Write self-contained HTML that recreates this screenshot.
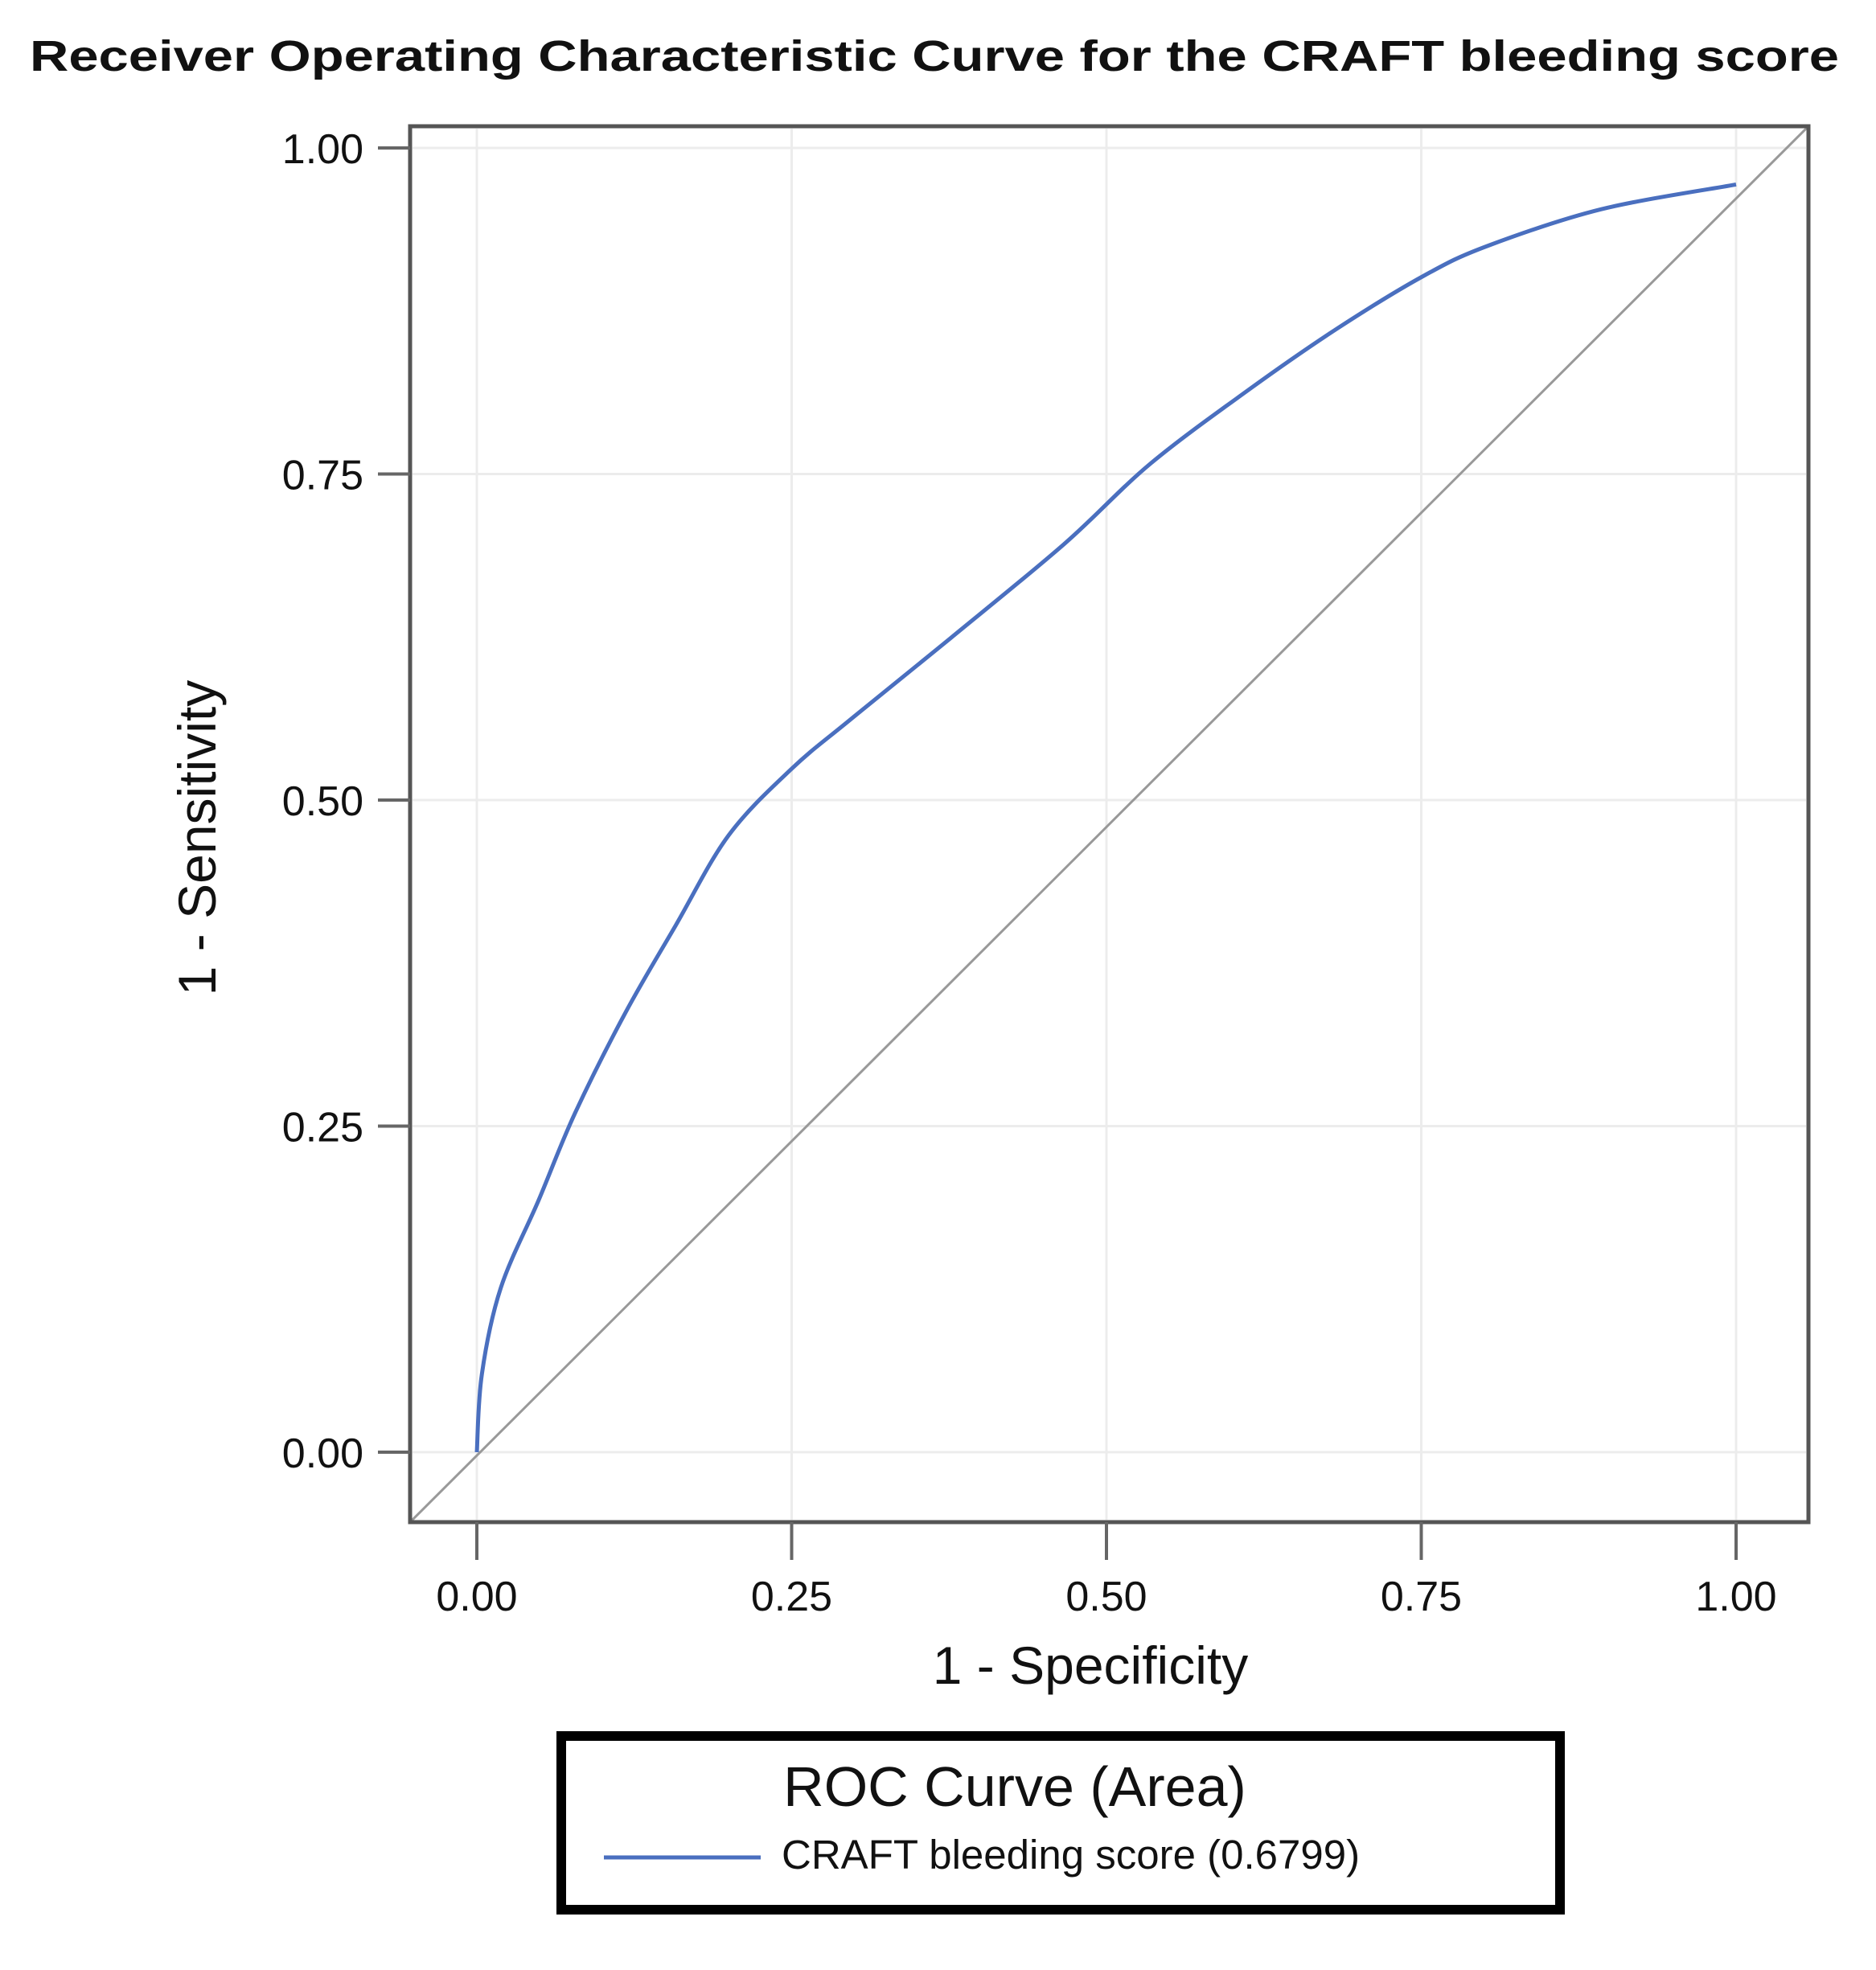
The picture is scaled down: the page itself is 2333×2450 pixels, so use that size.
<!DOCTYPE html>
<html><head><meta charset="utf-8"><style>
html,body{margin:0;padding:0;background:#fff}
svg{display:block}
text{font-family:"Liberation Sans",sans-serif;fill:#111}
</style></head><body>
<svg id="chart" width="2333" height="2450" viewBox="0 0 2333 2450" xmlns="http://www.w3.org/2000/svg">
<text x="1162" y="88" font-size="54" font-weight="bold" text-anchor="middle" textLength="2250" lengthAdjust="spacingAndGlyphs">Receiver Operating Characteristic Curve for the CRAFT bleeding score</text>
<defs><clipPath id="plotclip"><rect x="510" y="157" width="1739" height="1736"/></clipPath></defs>
<g id="grid"></g>
<g id="diag" clip-path="url(#plotclip)"></g>
<g id="series"></g>
<rect x="510" y="157" width="1739" height="1736" fill="none" stroke="#555" stroke-width="5"/>
<g id="axes"></g>
<text x="1356" y="2094" font-size="66" text-anchor="middle">1 - Specificity</text>
<text x="0" y="0" font-size="66" text-anchor="middle" transform="translate(268,1042) rotate(-90)">1 - Sensitivity</text>
<g>
<rect x="698" y="2159" width="1242" height="216" fill="none" stroke="#000" stroke-width="12"/>
<text x="1262" y="2246" font-size="70" text-anchor="middle">ROC Curve (Area)</text>
<line x1="751" y1="2310" x2="946" y2="2310" stroke="#4a6fbf" stroke-width="5"/>
<text x="972" y="2324" font-size="51">CRAFT bleeding score (0.6799)</text>
</g>
</svg>
<script>
const fpr = [0, 0.004, 0.019, 0.049, 0.078, 0.118, 0.158, 0.20, 0.25, 0.297, 0.376, 0.466, 0.535, 0.615, 0.684, 0.752, 0.803, 0.893, 1.0];
const tpr = [0, 0.06, 0.126, 0.193, 0.26, 0.337, 0.404, 0.473, 0.524, 0.562, 0.624, 0.696, 0.758, 0.816, 0.862, 0.902, 0.925, 0.953, 0.972];
const xTicks = [0, 0.25, 0.5, 0.75, 1];
const xTickLabels = ["0.00", "0.25", "0.50", "0.75", "1.00"];
const yTicks = [0, 0.25, 0.5, 0.75, 1];
const yTickLabels = ["0.00", "0.25", "0.50", "0.75", "1.00"];
const NS = "http://www.w3.org/2000/svg";
function xs(v){return 593 + v*1566;}
function ys(v){return 1806 - v*1622;}
function mk(tag, attrs, parent){const e=document.createElementNS(NS,tag);for(const k in attrs)e.setAttribute(k,attrs[k]);parent.appendChild(e);return e;}
const grid=document.getElementById('grid'), axes=document.getElementById('axes');
xTicks.forEach((t,i)=>{
  const g=mk('line',{x1:xs(t),x2:xs(t),y1:160,y2:1890,stroke:'#ececec','stroke-width':3},grid);
  
  
  const tk=mk('line',{x1:xs(t),x2:xs(t),y1:1893,y2:1940,stroke:'#666','stroke-width':4},axes);
  
  
  const tx=mk('text',{x:xs(t),y:2003,'font-size':52,'text-anchor':'middle'},axes);
  tx.textContent=xTickLabels[i];
  
  
});
yTicks.forEach((t,i)=>{
  const g=mk('line',{x1:513,x2:2246,y1:ys(t),y2:ys(t),stroke:'#ececec','stroke-width':3},grid);
  
  
  const tk=mk('line',{x1:470,x2:510,y1:ys(t),y2:ys(t),stroke:'#666','stroke-width':4},axes);
  
  
  const tx=mk('text',{x:452,y:ys(t)+19,'font-size':52,'text-anchor':'end'},axes);
  tx.textContent=yTickLabels[i];
  
  
});
const d=mk('line',{x1:510,y1:1893,x2:2249,y2:157,stroke:'#999','stroke-width':3},document.getElementById('diag'));


const P=fpr.map((v,i)=>[xs(v),ys(tpr[i])]);
let p='M'+P[0][0].toFixed(1)+','+P[0][1].toFixed(1);
for(let i=0;i<P.length-1;i++){
  const p0=P[Math.max(0,i-1)],p1=P[i],p2=P[i+1],p3=P[Math.min(P.length-1,i+2)];
  const c1=[p1[0]+(p2[0]-p0[0])/6,p1[1]+(p2[1]-p0[1])/6];
  const c2=[p2[0]-(p3[0]-p1[0])/6,p2[1]-(p3[1]-p1[1])/6];
  p+='C'+c1[0].toFixed(1)+','+c1[1].toFixed(1)+' '+c2[0].toFixed(1)+','+c2[1].toFixed(1)+' '+p2[0].toFixed(1)+','+p2[1].toFixed(1);
}
const c=mk('path',{d:p,fill:'none',stroke:'#4a6fbf','stroke-width':5,'stroke-linejoin':'round'},document.getElementById('series'));


</script>
</body></html>
